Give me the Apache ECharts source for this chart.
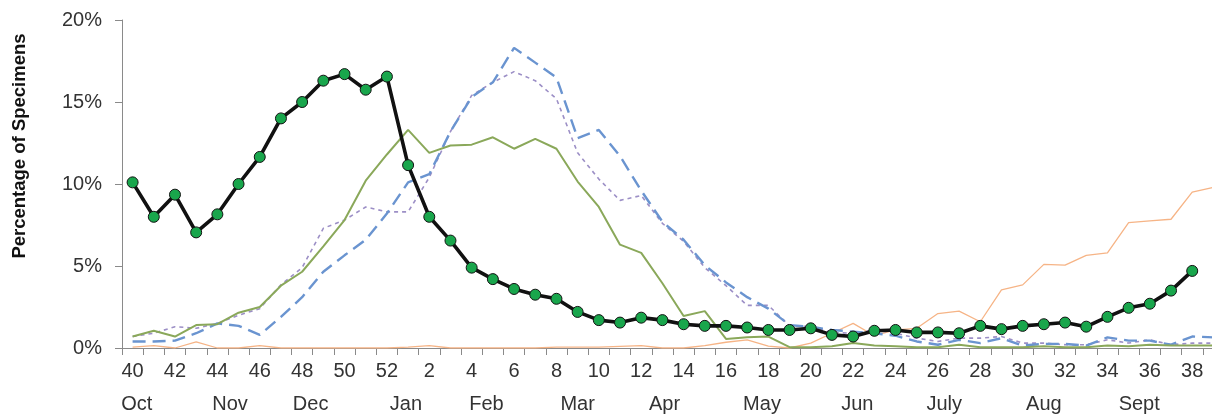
<!DOCTYPE html>
<html>
<head>
<meta charset="utf-8">
<script src="https://cdn.jsdelivr.net/npm/echarts@6/dist/echarts.min.js"></script>
<style>
  html, body { margin: 0; padding: 0; background: #fff; overflow: hidden; }
  /* chart is a bit wider than the window: week 39 runs off the right edge like in the source */
  #myChart { width: 1224px; height: 418px; }
</style>
</head>
<body>
<div id="myChart"></div>
<script>
// week labels, Oct (wk 40) to Sept (wk 39)
const weeks = ['40', '41', '42', '43', '44', '45', '46', '47', '48', '49', '50', '51', '52',
  '1', '2', '3', '4', '5', '6', '7', '8', '9', '10', '11', '12', '13', '14', '15', '16', '17', '18', '19', '20',
  '21', '22', '23', '24', '25', '26', '27', '28', '29', '30', '31', '32', '33', '34', '35', '36', '37', '38', '39'];

// month names and where they sit (in week index units)
const monthNames = ['Oct', 'Nov', 'Dec', 'Jan', 'Feb', 'Mar', 'Apr', 'May', 'Jun', 'July', 'Aug', 'Sept'];
const monthPos = [0.2, 4.6, 8.4, 12.9, 16.7, 21.0, 25.1, 29.7, 34.2, 38.3, 43.0, 47.5];

const yTicks = [0, 5, 10, 15, 20];

// current season (black line with dots), wk40 .. wk38
const current = [10.1, 8.0, 9.35, 7.05, 8.15, 10.0, 11.65, 14.0, 15.0, 16.3, 16.7, 15.75, 16.55,
  11.15, 8.0, 6.55, 4.9, 4.2, 3.6, 3.25, 3.0, 2.2, 1.7, 1.55, 1.85, 1.7, 1.45, 1.35, 1.35, 1.25, 1.1, 1.1, 1.2,
  0.8, 0.7, 1.05, 1.1, 0.95, 0.95, 0.9, 1.35, 1.15, 1.35, 1.45, 1.55, 1.3, 1.9, 2.45, 2.7, 3.5, 4.7];

// previous seasons
const greenSeason = [0.7, 1.05, 0.7, 1.4, 1.45, 2.15, 2.5, 3.8, 4.65, 6.2, 7.8, 10.2, 11.8,
  13.3, 11.9, 12.35, 12.4, 12.85, 12.15, 12.75, 12.15, 10.15, 8.6, 6.3, 5.8, 3.95, 1.95, 2.25, 0.55, 0.65, 0.7, 0.05, 0.05,
  0.1, 0.3, 0.15, 0.1, 0.05, 0.05, 0.2, 0.05, 0.05, 0.05, 0.1, 0.05, 0.05, 0.15, 0.1, 0.2, 0.15, 0.15, 0.15];

const blueSeason = [0.4, 0.4, 0.45, 0.9, 1.5, 1.35, 0.8, 1.9, 3.1, 4.65, 5.65, 6.6, 8.2,
  10.1, 10.6, 13.2, 15.3, 16.2, 18.3, 17.4, 16.5, 12.8, 13.3, 11.7, 9.6, 7.7, 6.6, 5.05, 4.0, 3.1, 2.4, 1.4, 1.3,
  1.1, 1.0, 0.9, 0.75, 0.4, 0.2, 0.5, 0.3, 0.6, 0.15, 0.25, 0.25, 0.15, 0.65, 0.45, 0.45, 0.2, 0.7, 0.65];

const purpleSeason = [0.7, 0.9, 1.3, 1.2, 1.5, 2.0, 2.4, 3.85, 4.9, 7.3, 7.8, 8.6, 8.3,
  8.3, 10.4, 13.2, 15.4, 16.2, 16.85, 16.3, 15.2, 11.9, 10.3, 9.0, 9.3, 7.6, 6.5, 4.9, 3.8, 2.6, 2.6, 1.35, 1.3,
  0.95, 0.9, 1.1, 0.9, 0.6, 0.4, 0.6, 0.6, 0.7, 0.3, 0.3, 0.2, 0.2, 0.5, 0.3, 0.5, 0.2, 0.3, 0.3];

const orangeSeason = [0.05, 0.15, 0, 0.38, 0, 0, 0.15, 0, 0, 0, 0, 0, 0,
  0.05, 0.15, 0, 0, 0, 0, 0, 0.05, 0.05, 0.05, 0.1, 0.15, 0, 0, 0.15, 0.35, 0.5, 0.12, 0, 0.3,
  0.9, 1.5, 0.75, 1.1, 1.2, 2.1, 2.25, 1.6, 3.55, 3.85, 5.1, 5.05, 5.65, 5.8, 7.65, 7.75, 7.85, 9.5, 9.8];

const labelFont = '"Liberation Sans", Arial, sans-serif';

const myChart = echarts.init(document.getElementById('myChart'));
let option = {
  animation: false,
  grid: {
    left: 122,
    right: 0,
    top: 20,
    bottom: 70
  },
  graphic: [{
    type: 'text',
    x: 20,
    y: 146,
    rotation: Math.PI / 2,
    style: {
      text: 'Percentage of Specimens',
      font: 'bold 18.5px ' + labelFont,
      fill: '#111',
      align: 'center',
      verticalAlign: 'middle'
    }
  }],
  xAxis: [{
    type: 'category',
    data: weeks,
    boundaryGap: true,
    axisLine: { lineStyle: { color: '#8a8a8a', width: 1 } },
    axisTick: { show: true, interval: 0, length: 7, lineStyle: { color: '#8a8a8a' } },
    axisLabel: {
      interval: 1,
      margin: 13,
      color: '#333',
      fontSize: 20,
      fontFamily: labelFont
    },
    splitLine: { show: false }
  }, {
    // month row under the week numbers
    type: 'value',
    position: 'bottom',
    offset: 35,
    min: -0.5,
    max: weeks.length - 0.5,
    axisLine: { show: false },
    axisTick: { show: false },
    splitLine: { show: false },
    axisLabel: {
      customValues: monthPos,
      margin: 11,
      color: '#333',
      fontSize: 20,
      fontFamily: labelFont,
      formatter: function (v) {
        for (let i = 0; i < monthPos.length; i++) {
          if (Math.abs(monthPos[i] - v) < 1e-6) return monthNames[i];
        }
        return '';
      }
    }
  }],
  yAxis: {
    type: 'value',
    min: yTicks[0],
    max: yTicks[yTicks.length - 1],
    interval: 5,
    axisLine: { show: true, onZero: false, lineStyle: { color: '#8a8a8a' } },
    axisTick: { show: true, length: 7, lineStyle: { color: '#8a8a8a' } },
    axisLabel: {
      margin: 20,
      color: '#333',
      fontSize: 20,
      fontFamily: labelFont,
      formatter: '{value}%'
    },
    splitLine: { show: false }
  },
  series: [{
    name: 'orange',
    type: 'line',
    data: orangeSeason,
    showSymbol: false,
    lineStyle: { color: '#f6b486', width: 1.3 },
    z: 1
  }, {
    name: 'purple',
    type: 'line',
    data: purpleSeason,
    showSymbol: false,
    lineStyle: { color: '#9c8fc6', width: 1.6, type: [4, 4] },
    z: 2
  }, {
    name: 'blue',
    type: 'line',
    data: blueSeason,
    showSymbol: false,
    lineStyle: { color: '#6a94d0', width: 2.4, type: [13, 7] },
    z: 3
  }, {
    name: 'green',
    type: 'line',
    data: greenSeason,
    showSymbol: false,
    lineStyle: { color: '#8aa85a', width: 2 },
    z: 4
  }, {
    name: 'current',
    type: 'line',
    data: current,
    symbol: 'circle',
    symbolSize: 11,
    showSymbol: true,
    lineStyle: { color: '#111', width: 3.6 },
    itemStyle: { color: '#19a64c', borderColor: '#111', borderWidth: 1 },
    z: 5
  }]
};
myChart.setOption(option);
</script>
</body>
</html>
